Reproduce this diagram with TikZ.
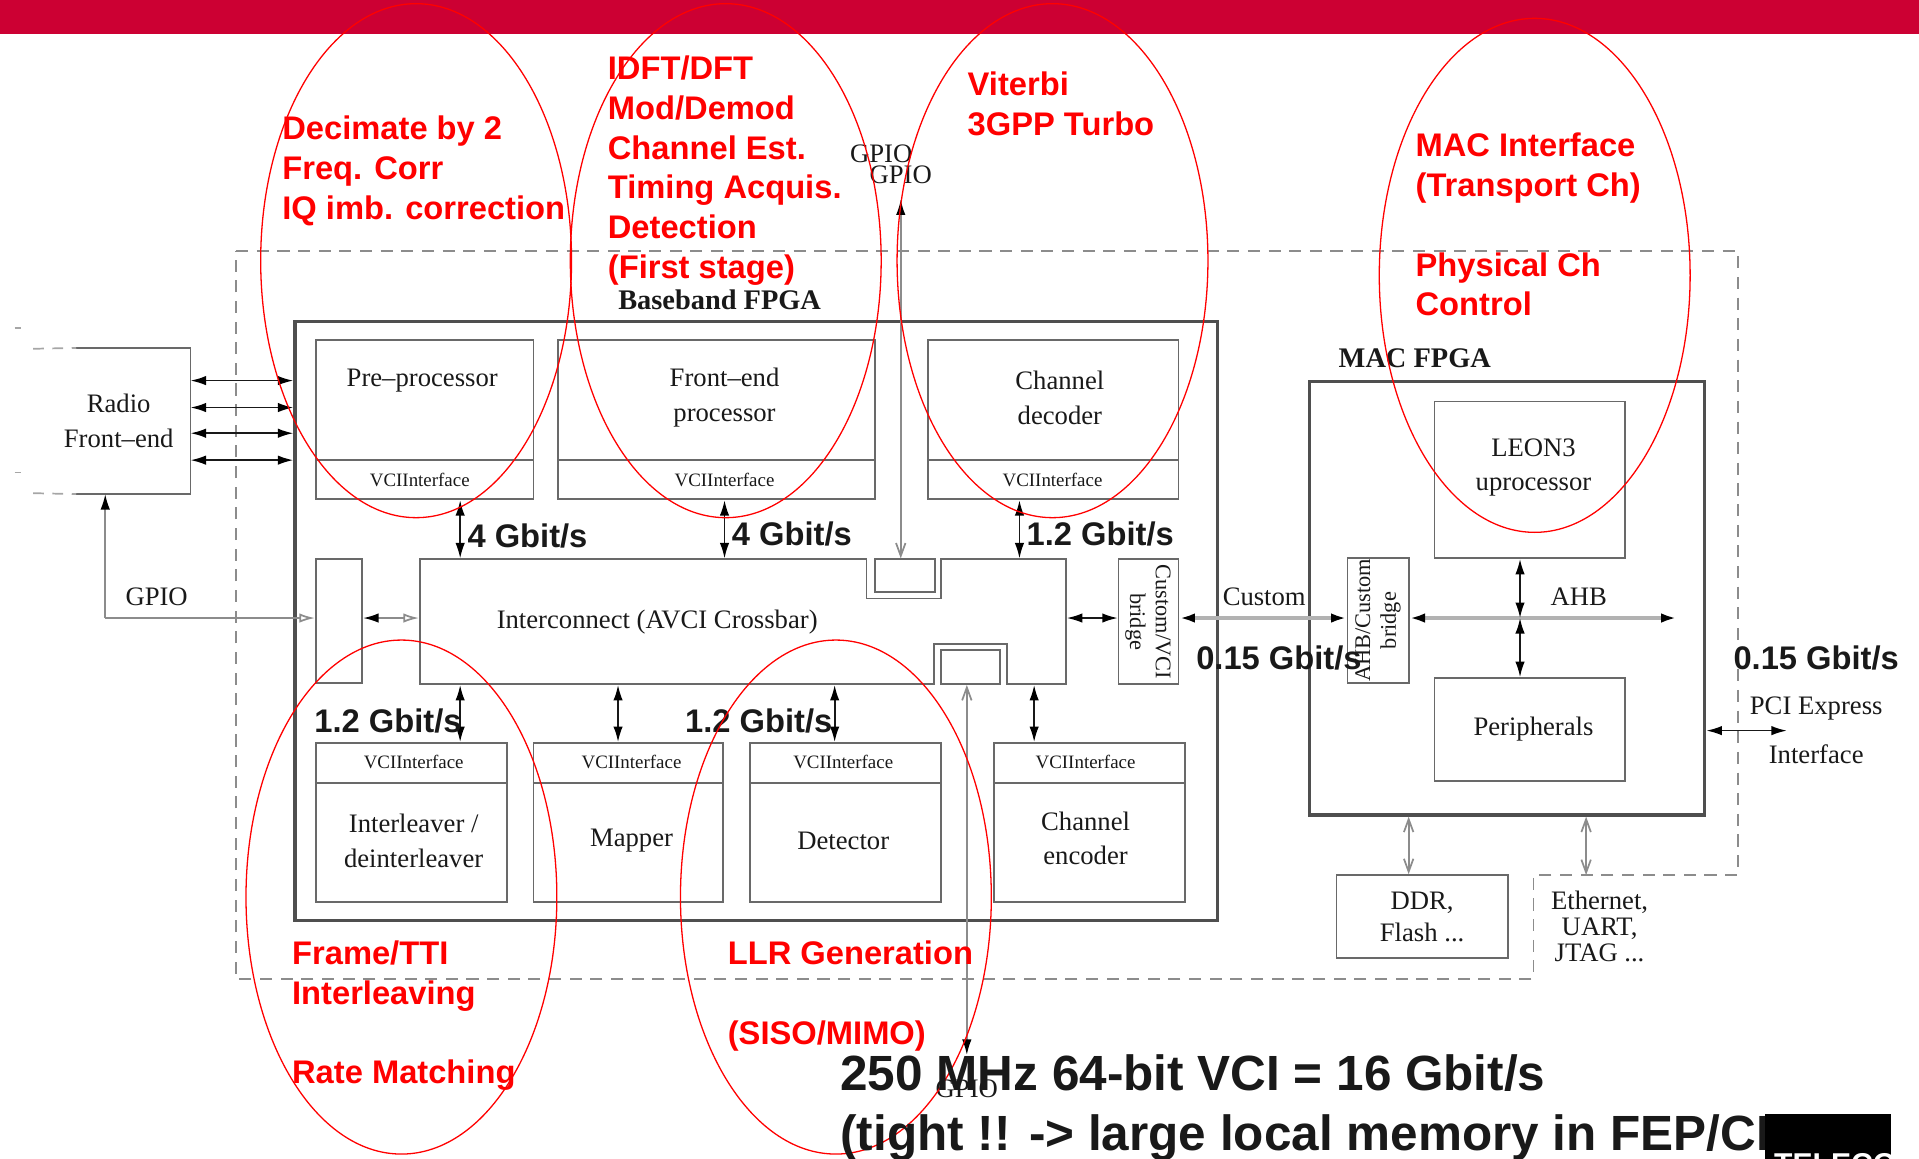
\documentclass[tikz,border=0pt]{standalone}
\usepackage{fontspec}
\setmainfont{Liberation Serif}
\setsansfont{Liberation Sans}
\usetikzlibrary{arrows.meta,fit}

\definecolor{banner}{RGB}{204,0,51}
\definecolor{boxline}{RGB}{105,105,105}
\definecolor{ink}{RGB}{25,25,25}

\tikzset{
  blk/.style={draw=boxline, line width=0.4pt, inner sep=0pt},
  fpga/.style={draw=boxline!75!black, line width=0.75pt, inner sep=0pt},
  hole/.style={inner sep=0pt},
  txt/.style={font=\fontsize{6.2}{8}\selectfont, text=ink, align=center, inner sep=0pt},
  vci/.style={font=\fontsize{4.4}{5}\selectfont, text=ink, inner sep=0pt},
  fpgat/.style={font=\bfseries\fontsize{6.6}{8}\selectfont, text=ink, inner sep=0pt},
  rate/.style={font=\sffamily\bfseries\fontsize{7.6}{9}\selectfont, text=ink, inner sep=0pt},
  note/.style={font=\sffamily\bfseries\fontsize{7.6}{9.25}\selectfont, text=red,
    align=left, anchor=north west, inner sep=0pt},
  zone/.style={draw=red, line width=0.3pt},
  fat/.tip={Latex[length=3.6pt,width=2.2pt,color=black]},
  hollow/.tip={Latex[open,length=3.6pt,width=2.2pt]},
  barb/.tip={Straight Barb[length=3pt,width=2.2pt]},
  link/.style={fat-fat, draw=ink, line width=0.4pt},
  bus/.style={fat-fat, draw=black!30, line width=0.9pt},
  gpio/.style={draw=black!45, line width=0.4pt},
}

\begin{document}
\begin{tikzpicture}[x=0.1mm, y=-0.1mm]
            \useasboundingbox (0,0) rectangle (1568,947);
            % Banda superior
            \fill[banner] (0,0) rectangle (1568,28);
            % Zona punteada
            \draw[draw=black!45, line width=0.45pt, dash pattern=on 2.8pt off 2pt]
                (193,205) -- (1420,205) -- (1420,715) -- (1253,715)
                -- (1253,800) -- (193,800) -- cycle;
            % Radio front-end
            \node[hole, fit={(63,285) (155,403)}] (radio) {};
            \draw[boxline, line width=0.4pt] (radio.north west) -- (radio.north east)
                -- (radio.south east) -- (radio.south west);
            \draw[black!35, line width=0.4pt, dash pattern=on 2.5pt off 2pt]
                (27,285) -- (radio.north west) (27,403) -- (radio.south west);
            \draw[black!35, line width=0.4pt] (12,268) -- (17,268) (12,386) -- (17,386);
            \node[txt] (radiot) at (97,344) {Radio\\Front--end};
            % Baseband FPGA
            \node[fpga, fit={(241,263) (995,752)}] (bb) {};
            \node[fpgat] (bbt) at (588,245) {Baseband FPGA};
            \foreach \y in {311,333,354,376}
                \draw[link] (radio.east |- 0,\y) -- (bb.west |- 0,\y);
            % Bloques superiores
            \node[blk, fit={(258,278) (436,408)}] (pre) {};
            \node[blk, fit={(456,278) (715,408)}] (fep) {};
            \node[blk, fit={(758,278) (963,408)}] (dec) {};
            \foreach \b in {pre,fep,dec}
                \draw[boxline, line width=0.4pt] (\b.west |- 0,376) -- (\b.east |- 0,376);
            \node[txt] (pret) at (345,311) {Pre--processor};
            \node[txt] (fept) at (592,325) {Front--end\\processor};
            \node[txt] (dect) at (866,325) {Channel\\decoder};
            \node[vci] (prev) at (343,392) {VCIInterface};
            \node[vci] (fepv) at (592,392) {VCIInterface};
            \node[vci] (decv) at (860,392) {VCIInterface};
            % Interconnect
            \node[hole, fit={(343,457) (871,559)}] (ic) {};
            \draw[boxline, line width=0.4pt] (343,457) -- (708,457) -- (708,489) -- (769,489)
                -- (769,457) -- (871,457) -- (871,559) -- (823,559) -- (823,526)
                -- (763,526) -- (763,559) -- (343,559) -- cycle;
            \node[blk, fit={(715,457) (764,484)}] (gtop) {};
            \node[blk, fit={(769,531) (817,559)}] (gbot) {};
            \node[txt] (ict) at (537,508) {Interconnect (AVCI Crossbar)};
            \node[blk, fit={(258,457) (296,558)}] (gin) {};
            \node[blk, fit={(914,457) (963,559)}] (cvb) {};
            \node[txt, rotate=-90, font=\fontsize{5.2}{6}\selectfont] (cvbt) at (938,508)
                {Custom/VCI\\bridge};
            % Bloques inferiores
            \node[blk, fit={(258,607) (414,737)}] (ilv) {};
            \node[blk, fit={(436,607) (591,737)}] (map) {};
            \node[blk, fit={(613,607) (769,737)}] (det) {};
            \node[blk, fit={(812,607) (968,737)}] (enc) {};
            \foreach \b in {ilv,map,det,enc}
                \draw[boxline, line width=0.4pt] (\b.west |- 0,640) -- (\b.east |- 0,640);
            \foreach \b/\x in {ilv/338, map/516, det/689, enc/887}
                \node[vci] (\b v) at (\x,623) {VCIInterface};
            \node[txt] (ilvt) at (338,687) {Interleaver /\\deinterleaver};
            \node[txt] (mapt) at (516,687) {Mapper};
            \node[txt] (dett) at (689,687) {Detector};
            \node[txt] (enct) at (887,685) {Channel\\encoder};
            % Enlaces VCI
            \foreach \b/\x in {pre/376, fep/592, dec/833}
                \draw[link] (\b.south -| \x,0) -- (ic.north -| \x,0);
            \foreach \b/\x in {ilv/376, map/505, det/682, enc/845}
                \draw[link] (ic.south -| \x,0) -- (\b.north -| \x,0);
            \draw[link] (ic.east |- 0,505) -- (cvb.west |- 0,505);
            \node[rate] (r1) at (431,438) {4 Gbit/s};
            \node[rate] (r2) at (647,436) {4 Gbit/s};
            \node[rate] (r3) at (899,436) {1.2 Gbit/s};
            \node[rate] (r4) at (317,589) {1.2 Gbit/s};
            \node[rate] (r5) at (620,589) {1.2 Gbit/s};
            % GPIO
            \coordinate (gpl) at (86,505);
            \draw[gpio, -fat] (gpl) -- (radio.south -| gpl);
            \draw[gpio, -hollow] (gpl) -- (gin.west |- gpl);
            \draw[gpio, fat-hollow] (gin.east |- gpl) -- (ic.west |- gpl);
            \node[txt] (gpiol) at (128,488) {GPIO};
            \coordinate (gpt) at (736,163);
            \draw[gpio, barb-fat] (gtop.north -| gpt) -- (gpt);
            \node[txt] (gpiot1) at (720,126) {GPIO};
            \node[txt] (gpiot2) at (736,143) {GPIO};
            \coordinate (gpb) at (790,862);
            \draw[gpio, barb-fat] (gbot.south -| gpb) -- (gpb);
            \node[txt] (gpiob) at (790,890) {GPIO};
            % MAC FPGA
            \node[fpga, fit={(1070,312) (1393,666)}] (mac) {};
            \node[fpgat] (mact) at (1156,293) {MAC FPGA};
            \node[blk, fit={(1172,328) (1328,456)}] (leon) {};
            \node[blk, fit={(1172,554) (1328,638)}] (peri) {};
            \node[blk, fit={(1101,456) (1151,558)}] (ahbb) {};
            \node[txt] (leont) at (1253,382) {LEON3\\uprocessor};
            \node[txt] (perit) at (1253,596) {Peripherals};
            \node[txt, rotate=90, font=\fontsize{5.2}{6}\selectfont] (ahbbt) at (1126,507)
                {AHB/Custom\\bridge};
            \coordinate (ahbj) at (1242,505);
            \coordinate (ahbe) at (1370,505);
            \draw[bus] (cvb.east |- ahbj) -- (ahbb.west |- ahbj);
            \draw[bus] (ahbb.east |- ahbj) -- (ahbe);
            \draw[link] (leon.south -| ahbj) -- (ahbj);
            \draw[link] (ahbj) -- (peri.north -| ahbj);
            \node[txt] (custt) at (1033,488) {Custom};
            \node[txt] (ahbt) at (1290,488) {AHB};
            \node[rate] (r6) at (1045,538) {0.15 Gbit/s};
            \node[rate] (r7) at (1484,538) {0.15 Gbit/s};
            \coordinate (pcie) at (1460,597);
            \draw[link] (mac.east |- pcie) -- (pcie);
            \node[txt] (pcit) at (1484,579) {PCI Express};
            \node[txt] (pcii) at (1484,616) {Interface};
            % Memorias y E/S
            \node[blk, fit={(1092,715) (1232,783)}] (ddr) {};
            \node[txt, font=\fontsize{6.2}{7.4}\selectfont] (ddrt) at (1162,749) {DDR,\\Flash ...};
            \draw[gpio, barb-barb] (mac.south -| 1151,0) -- (ddr.north -| 1151,0);
            \coordinate (ethp) at (1296,715);
            \draw[gpio, barb-barb] (mac.south -| ethp) -- (ethp);
            \node[txt, font=\fontsize{6.2}{6}\selectfont] (etht) at (1307,757)
                {Ethernet,\\UART,\\JTAG ...};
            % Elipses rojas
            \foreach \cx/\cy in {340/213, 593/213, 860/213, 1254/225, 328/733, 683/733}
                \draw[zone] (\cx,\cy) ellipse [x radius=12.7mm, y radius=21mm];
            % Notas
            \node[note] (n1) at (230,94) {Decimate by 2\\Freq. Corr\\IQ imb. correction};
            \node[note] (n2) at (496,45) {IDFT/DFT\\Mod/Demod\\Channel Est.\\Timing Acquis.\\Detection\\(First stage)};
            \node[note] (n3) at (790,58) {Viterbi\\3GPP Turbo};
            \node[note] (n4) at (1156,108) {MAC Interface\\(Transport Ch)\\[9.25pt]Physical Ch\\Control};
            \node[note] (n5) at (238,768) {Frame/TTI\\Interleaving\\[9.25pt]Rate Matching};
            \node[note] (n6) at (594,768) {LLR Generation\\[9.25pt](SISO/MIMO)};
            % Texto grande
            \node[font=\sffamily\bfseries\fontsize{11.5}{14}\selectfont, text=ink, align=left,
                anchor=north west, inner sep=0pt] (bigt) at (686,861)
                {250 MHz 64-bit VCI = 16 Gbit/s\\(tight !! -> large local memory in FEP/CI};
            \fill[black] (1442,910) rectangle (1545,947);
            \node[font=\sffamily\bfseries\fontsize{7}{8}\selectfont, text=white, anchor=north west,
                inner sep=0pt] (logo) at (1449,942) {TELECOM};
        \end{tikzpicture}
\end{document}
